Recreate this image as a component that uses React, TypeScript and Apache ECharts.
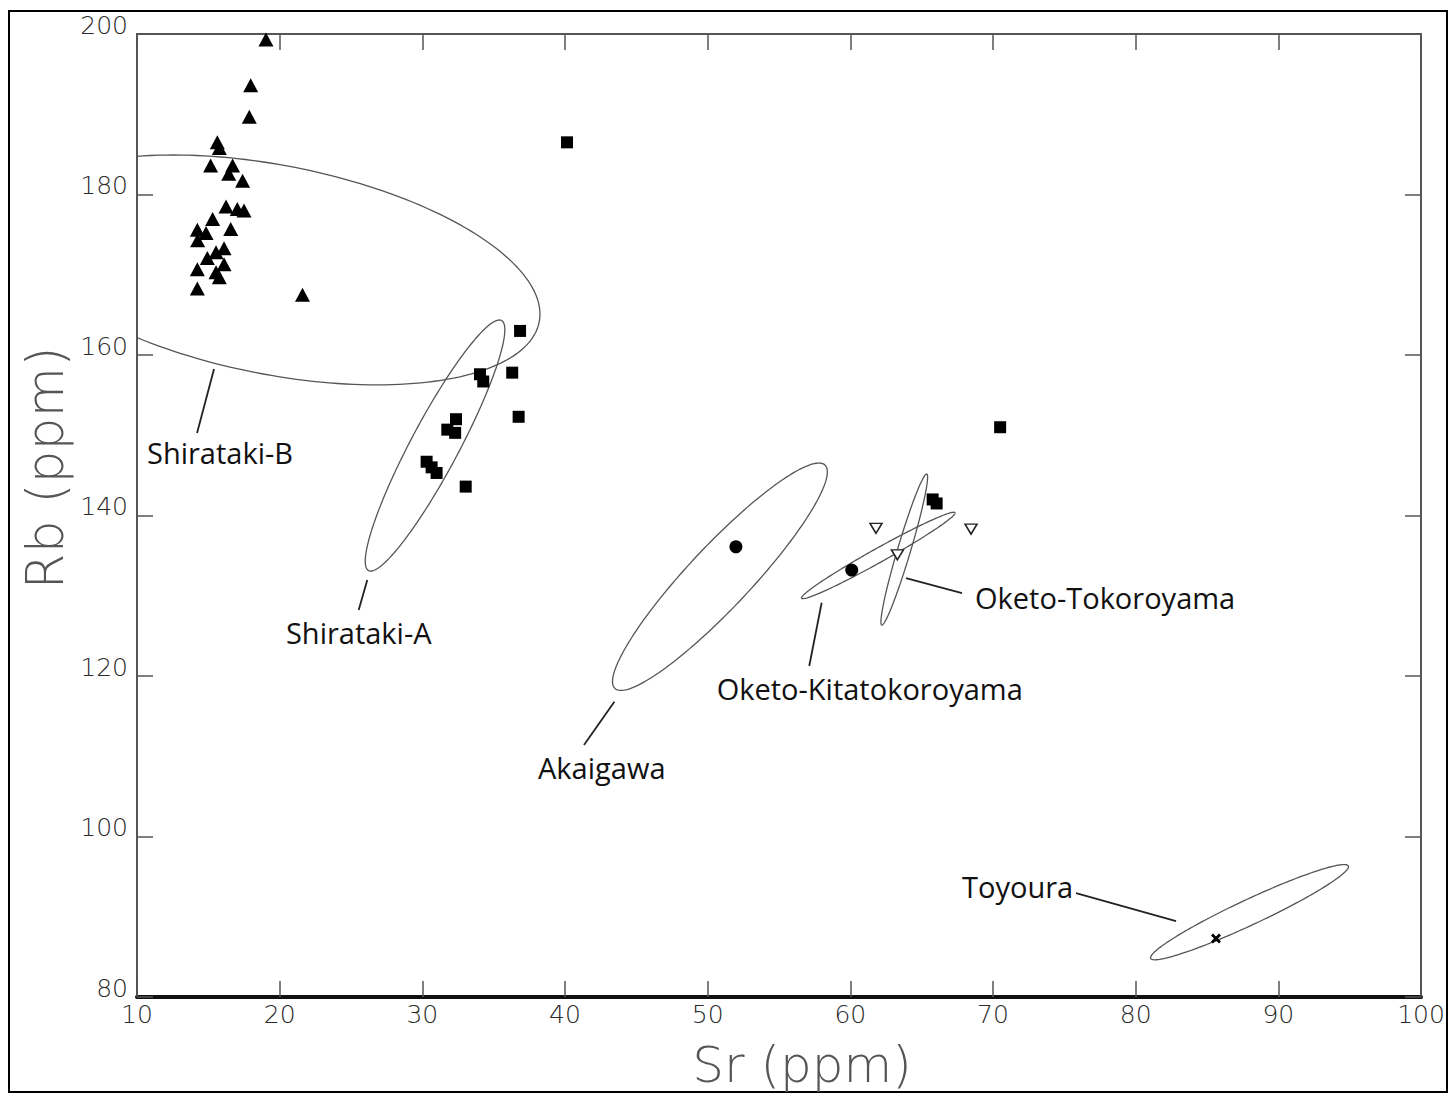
import React, { useEffect, useRef } from "react";
import * as echarts from "echarts";

// ---- Data (Sr ppm, Rb ppm) ----
const triangles: [number, number][] = [
  [19.04, 199.3], [17.97, 193.6], [17.87, 189.7], [15.63, 186.5], [15.77, 185.8],
  [15.16, 183.6], [16.7, 183.6], [16.43, 182.6], [17.4, 181.7], [16.24, 178.5],
  [17.03, 178.2], [17.5, 178.0], [15.3, 176.95], [14.23, 175.6], [14.84, 175.2],
  [16.57, 175.7], [14.25, 174.3], [16.1, 173.3], [15.54, 172.8], [14.93, 172.1],
  [16.1, 171.3], [14.23, 170.7], [15.54, 170.3], [15.77, 169.7], [14.23, 168.3],
  [21.6, 167.5],
];
const squares: [number, number][] = [
  [40.14, 186.5], [36.85, 163.0], [34.04, 157.6], [34.27, 156.7], [36.3, 157.8],
  [36.75, 152.3], [32.36, 152.0], [31.75, 150.7], [32.3, 150.3], [30.3, 146.7],
  [30.65, 146.0], [31.0, 145.3], [33.04, 143.6], [70.5, 151.0], [65.77, 142.0],
  [66.05, 141.5],
];
const circles: [number, number][] = [[51.98, 136.1], [60.1, 133.2]];
const invTriangles: [number, number][] = [[61.8, 138.4], [68.46, 138.3], [63.3, 135.1]];
const crosses: [number, number][] = [[85.63, 87.3]];

// ---- Source ellipses: centre, major half-axis vector, minor half-axis vector (data units) ----
const ellipseNames = ["Shirataki-B", "Shirataki-A", "Akaigawa", "Oketo-Kitatokoroyama", "Oketo-Tokoroyama", "Toyoura"];
const ellipseCenters: [number, number][] = [[19.67, 170.6], [30.89, 148.72], [50.86, 132.37], [61.96, 135.02], [63.78, 135.76], [87.98, 90.57]];
const ellipseMajor: [number, number][] = [[18.52, -6.49], [4.661, 15.58], [7.36, 13.92], [5.376, 5.333], [1.577, 9.408], [6.925, 5.757]];
const ellipseMinor: [number, number][] = [[-1.416, -12.77], [1.486, -1.408], [1.584, -2.642], [0.239, -0.763], [0.437, -0.232], [0.377, -1.434]];

// ---- Labels (data units) ----
const labelPos: [number, number][] = [[10.7, 147.79], [20.44, 125.48], [38.11, 108.66], [50.63, 118.47], [68.74, 129.72], [67.83, 93.83]];
const leaderFrom: [number, number][] = [[15.4, 158.26], [26.14, 131.96], [43.46, 116.8], [57.99, 129.13], [63.9, 132.21], [75.82, 92.95]];
const leaderTo: [number, number][] = [[14.21, 150.28], [25.54, 128.22], [41.33, 111.4], [57.12, 121.25], [67.83, 130.34], [82.83, 89.46]];

const xMin = 10, xMax = 100, xStep = 10;
const yMin = 80, yMax = 200, yStep = 20;

const tickFont = { fontFamily: "DejaVu Sans", fontSize: 25, fontWeight: 200 as any, color: "#2a2a2a" };

export default function App() {
  const ref = useRef<HTMLDivElement>(null);
  useEffect(() => {
    if (!ref.current) return;
    const chart = echarts.init(ref.current, undefined, { renderer: "svg" });
    const axisTick = { show: true, inside: true, length: 16, lineStyle: { color: "#555", width: 1.5 } };
    const option: any = {
      animation: false,
      backgroundColor: "#fff",
      grid: { left: 137, top: 34, width: 1284, height: 963, containLabel: false },
      xAxis: [
        {
          type: "value", min: xMin, max: xMax, interval: xStep, position: "bottom",
          axisLine: { show: true, onZero: false, lineStyle: { color: "#111", width: 4 } },
          axisTick, splitLine: { show: false },
          axisLabel: { ...tickFont, margin: 5 },
        },
        {
          type: "value", min: xMin, max: xMax, interval: xStep, position: "top",
          axisLine: { show: true, onZero: false, lineStyle: { color: "#555", width: 2 } },
          axisTick, splitLine: { show: false }, axisLabel: { show: false },
        },
      ],
      yAxis: [
        {
          type: "value", min: yMin, max: yMax, interval: yStep, position: "left",
          axisLine: { show: true, onZero: false, lineStyle: { color: "#555", width: 2 } },
          axisTick, splitLine: { show: false },
          axisLabel: { ...tickFont, margin: 9, verticalAlign: "bottom", lineHeight: 18 },
        },
        {
          type: "value", min: yMin, max: yMax, interval: yStep, position: "right",
          axisLine: { show: true, onZero: false, lineStyle: { color: "#555", width: 2 } },
          axisTick, splitLine: { show: false }, axisLabel: { show: false },
        },
      ],
      graphic: [
        { type: "rect", shape: { x: 9, y: 11, width: 1438, height: 1081 }, style: { fill: "none", stroke: "#000", lineWidth: 2 } },
        {
          type: "text", x: 45, y: 468, rotation: Math.PI / 2,
          style: { text: "Rb (ppm)", font: "200 52px 'DejaVu Sans'", fill: "#555", align: "center", verticalAlign: "middle" },
        },
        {
          type: "text", x: 802, y: 1065,
          style: { text: "Sr (ppm)", font: "200 50px 'DejaVu Sans'", fill: "#555", align: "center", verticalAlign: "middle" },
        },
      ],
      series: [
        {
          name: "ellipses", type: "custom", silent: true,
          data: ellipseCenters.map((c, i) => [c[0], c[1], i]),
          encode: { x: 0, y: 1 },
          renderItem: (params: any, api: any) => {
            const i = params.dataIndex;
            const c = ellipseCenters[i], M = ellipseMajor[i], m = ellipseMinor[i];
            const pts: number[][] = [];
            for (let k = 0; k <= 200; k++) {
              const t = (k / 200) * Math.PI * 2;
              pts.push(api.coord([
                c[0] + Math.cos(t) * M[0] + Math.sin(t) * m[0],
                c[1] + Math.cos(t) * M[1] + Math.sin(t) * m[1],
              ]));
            }
            const cs = params.coordSys;
            return {
              type: "group",
              clipPath: { type: "rect", shape: { x: cs.x, y: cs.y, width: cs.width, height: cs.height } },
              children: [{ type: "polyline", shape: { points: pts }, style: { fill: "none", stroke: "#555", lineWidth: 1.3 } }],
            };
          },
          z: 1,
        },
        {
          name: "labels", type: "custom", silent: true,
          data: labelPos.map((p, i) => [p[0], p[1], i]),
          encode: { x: 0, y: 1 },
          renderItem: (params: any, api: any) => {
            const i = params.dataIndex;
            const a = api.coord(leaderFrom[i]);
            const b = api.coord(leaderTo[i]);
            const p = api.coord(labelPos[i]);
            return {
              type: "group",
              children: [
                { type: "line", shape: { x1: a[0], y1: a[1], x2: b[0], y2: b[1] }, style: { stroke: "#222", lineWidth: 1.8 } },
                {
                  type: "text", x: p[0], y: p[1],
                  style: { text: ellipseNames[i], font: "29px 'Open Sans'", fill: "#111", align: "left", verticalAlign: "middle" },
                },
              ],
            };
          },
          z: 2,
        },
        {
          name: "triangles", type: "scatter", data: triangles, symbol: "triangle", symbolSize: [15, 14],
          itemStyle: { color: "#000", opacity: 1 }, z: 3,
        },
        {
          name: "squares", type: "scatter", data: squares, symbol: "rect", symbolSize: 12,
          itemStyle: { color: "#000", opacity: 1 }, z: 3,
        },
        {
          name: "circles", type: "scatter", data: circles, symbol: "circle", symbolSize: 13,
          itemStyle: { color: "#000", opacity: 1 }, z: 3,
        },
        {
          name: "invTriangles", type: "scatter", data: invTriangles, symbol: "triangle", symbolRotate: 180,
          symbolSize: [12, 10], itemStyle: { color: "#fff", borderColor: "#222", borderWidth: 1.5, opacity: 1 }, z: 3,
        },
        {
          name: "crosses", type: "scatter", data: crosses,
          symbol: "path://M0,2 L2,0 L5,3 L8,0 L10,2 L7,5 L10,8 L8,10 L5,7 L2,10 L0,8 L3,5 Z",
          symbolSize: 10, itemStyle: { color: "#000", opacity: 1 }, z: 3,
        },
      ],
    };
    chart.setOption(option);
    return () => chart.dispose();
  }, []);
  return (
    <div
      ref={ref}
      style={{ position: "fixed", left: 0, top: 0, width: 1451, height: 1095, background: "#fff" }}
    />
  );
}
